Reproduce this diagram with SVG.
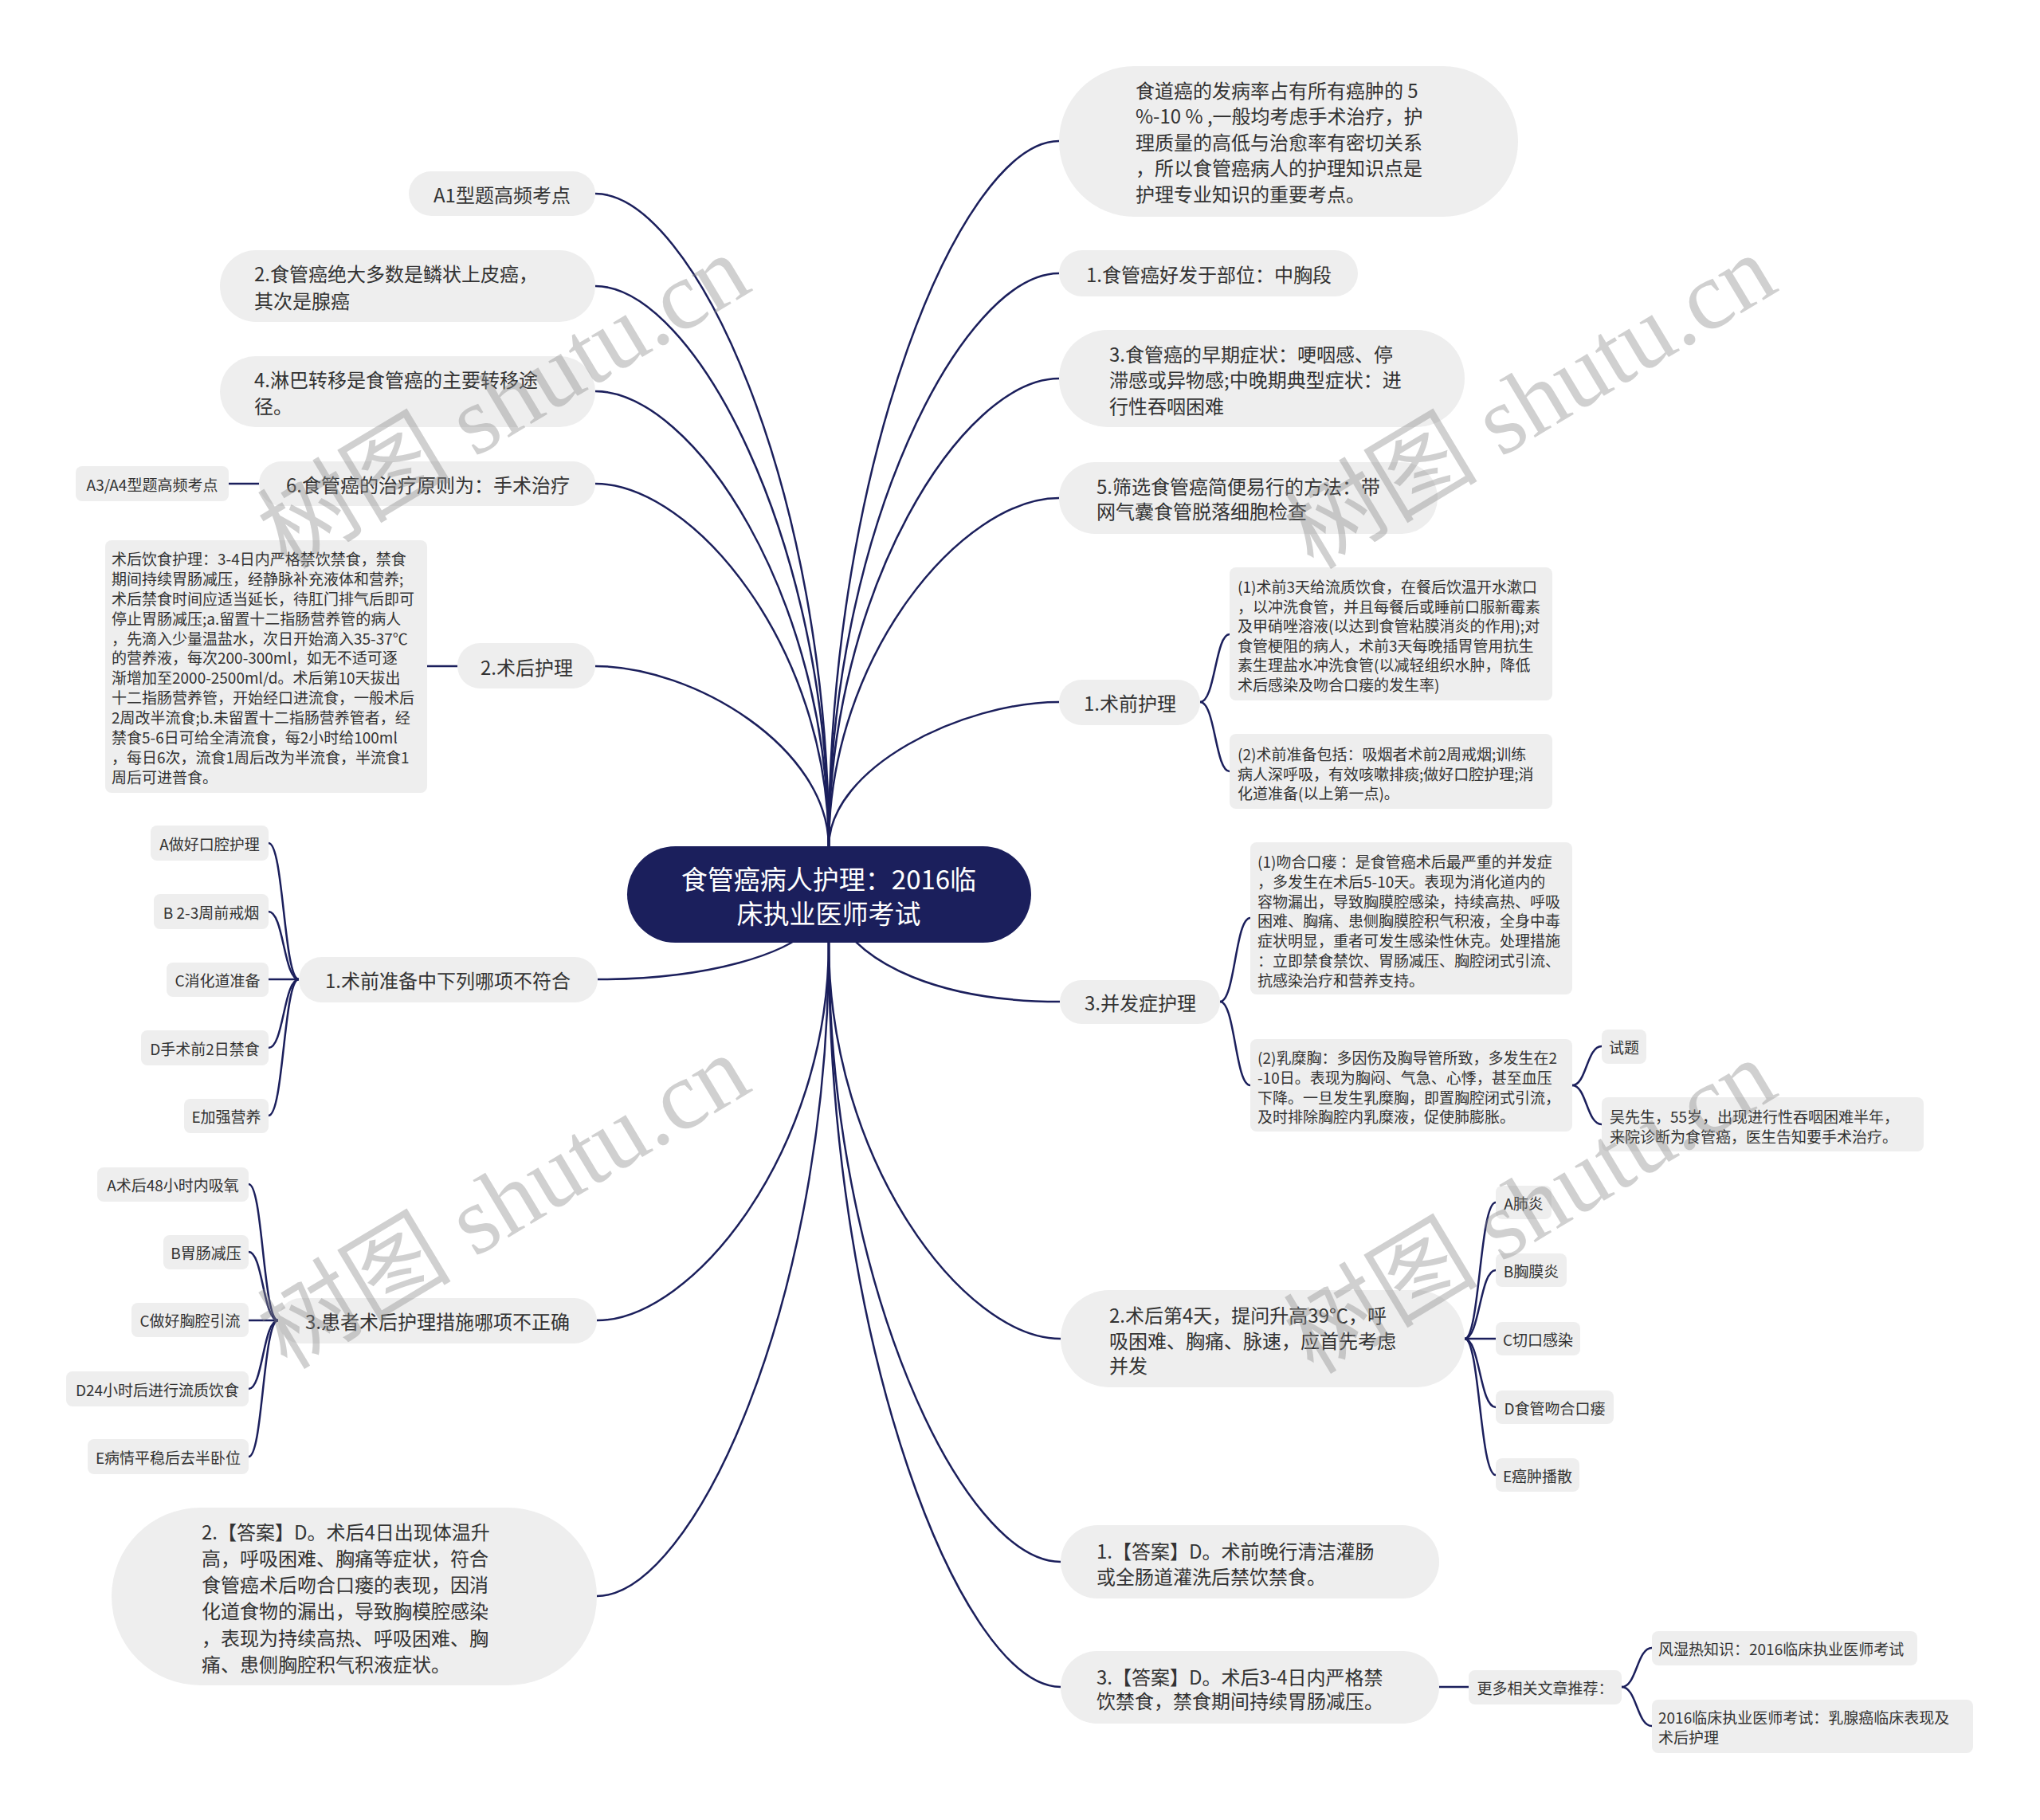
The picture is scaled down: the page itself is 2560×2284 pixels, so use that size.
<svg xmlns="http://www.w3.org/2000/svg" width="2560" height="2284" viewBox="0 0 2560 2284">
<style>
.node rect{fill:#eeeeee}
.root rect{fill:#1b1f5c}
text{font-family:"Noto Sans CJK SC","Noto Sans",sans-serif;fill:#333;dominant-baseline:central}
.t1{font-size:24px}
.t2{font-size:19px}
.tr{font-size:33px;fill:#ffffff}
.mid{text-anchor:middle}
.links path{fill:none;stroke:#1b1f5c;stroke-width:2.5}
.wm{font-family:"Liberation Serif","Noto Sans CJK SC",serif;font-size:122px;fill:#8a8a8a;fill-opacity:0.4;dominant-baseline:alphabetic}
</style>
<rect width="2560" height="2284" fill="#ffffff"/>
<g class="links" id="connectors">
<path d="M1040 1063C1040 612 870 243 747 243"/>
<path d="M1040 1063C1040 676 870 359 747 359"/>
<path d="M1040 1063C1040 749 870 491 747 491"/>
<path d="M1040 1063C1040 812 870 607 747 607"/>
<path d="M1040 1063C1040 938 870 836 747 836"/>
<path d="M1040 1063C1040 576 1208 177 1329 177"/>
<path d="M1040 1063C1040 667 1208 343 1329 343"/>
<path d="M1040 1063C1040 740 1208 475 1329 475"/>
<path d="M1040 1063C1040 822 1208 625 1329 625"/>
<path d="M1040 1063C1040 963 1208 881 1329 881"/>
<path d="M1030 1150C1000 1200 880 1229 750 1229"/>
<path d="M1050 1150C1080 1210 1180 1257 1330 1257"/>
<path d="M1040 1183C1040 1444 870 1657 749 1657"/>
<path d="M1040 1183C1040 1634 870 2003 749 2003"/>
<path d="M1040 1183C1040 1456 1209 1680 1331 1680"/>
<path d="M1040 1183C1040 1610 1209 1960 1331 1960"/>
<path d="M1040 1183C1040 1697 1209 2117 1331 2117"/>
<path d="M325 607L287 607"/>
<path d="M574 836L536 836"/>
<path d="M375 1229C356 1229 356 1058 337 1058"/>
<path d="M375 1229C356 1229 356 1144 337 1144"/>
<path d="M375 1229L337 1229"/>
<path d="M375 1229C356 1229 356 1315 337 1315"/>
<path d="M375 1229C356 1229 356 1400 337 1400"/>
<path d="M349 1657C330 1657 330 1486 312 1486"/>
<path d="M349 1657C330 1657 330 1571 312 1571"/>
<path d="M349 1657L312 1657"/>
<path d="M349 1657C330 1657 330 1743 312 1743"/>
<path d="M349 1657C330 1657 330 1828 312 1828"/>
<path d="M1506 881C1525 881 1525 796 1543 796"/>
<path d="M1506 881C1525 881 1525 968 1543 968"/>
<path d="M1531 1257C1550 1257 1550 1152 1569 1152"/>
<path d="M1531 1257C1550 1257 1550 1362 1569 1362"/>
<path d="M1973 1362C1991 1362 1991 1313 2010 1313"/>
<path d="M1973 1362C1991 1362 1991 1411 2010 1411"/>
<path d="M1838 1680C1857 1680 1857 1509 1877 1509"/>
<path d="M1838 1680C1857 1680 1857 1594 1877 1594"/>
<path d="M1838 1680L1877 1680"/>
<path d="M1838 1680C1857 1680 1857 1766 1877 1766"/>
<path d="M1838 1680C1857 1680 1857 1851 1877 1851"/>
<path d="M1806 2117L1843 2117"/>
<path d="M2035 2117C2054 2117 2054 2068 2073 2068"/>
<path d="M2035 2117C2054 2117 2054 2166 2073 2166"/>
</g>
<g class="root" id="root">
<rect x="787" y="1062" width="507" height="121" rx="60.5"/>
<text class="tr mid" x="1040" y="1102">食管癌病人护理：2016临</text>
<text class="tr mid" x="1040" y="1145">床执业医师考试</text>
</g>
<g class="node" id="n-a1"><rect x="513" y="215" width="234" height="56" rx="28"/><text class="t1 mid" x="630" y="243">A1型题高频考点</text></g>
<g class="node" id="n-l2"><rect x="276" y="314" width="471" height="90" rx="45"/><text class="t1" x="319" y="342">2.食管癌绝大多数是鳞状上皮癌，</text><text class="t1" x="319" y="376">其次是腺癌</text></g>
<g class="node" id="n-l4"><rect x="276" y="447" width="471" height="89" rx="44.5"/><text class="t1" x="319" y="475">4.淋巴转移是食管癌的主要转移途</text><text class="t1" x="319" y="508">径。</text></g>
<g class="node" id="n-l6"><rect x="325" y="579" width="422" height="56" rx="28"/><text class="t1 mid" x="537" y="607">6.食管癌的治疗原则为：手术治疗</text></g>
<g class="node" id="n-a3"><rect x="95" y="585" width="192" height="44" rx="8"/><text class="t2 mid" x="191" y="607">A3/A4型题高频考点</text></g>
<g class="node" id="n-shuhou"><rect x="574" y="807" width="173" height="57" rx="28.5"/><text class="t1 mid" x="661" y="836">2.术后护理</text></g>
<g class="node" id="n-shuhou-text"><rect x="132" y="678" width="404" height="317" rx="8"/>
<text class="t2" x="140" y="700">术后饮食护理：3-4日内严格禁饮禁食，禁食</text>
<text class="t2" x="140" y="725">期间持续胃肠减压，经静脉补充液体和营养;</text>
<text class="t2" x="140" y="750">术后禁食时间应适当延长，待肛门排气后即可</text>
<text class="t2" x="140" y="775">停止胃肠减压;a.留置十二指肠营养管的病人</text>
<text class="t2" x="140" y="800">，先滴入少量温盐水，次日开始滴入35-37℃</text>
<text class="t2" x="140" y="824">的营养液，每次200-300ml，如无不适可逐</text>
<text class="t2" x="140" y="849">渐增加至2000-2500ml/d。术后第10天拔出</text>
<text class="t2" x="140" y="874">十二指肠营养管，开始经口进流食，一般术后</text>
<text class="t2" x="140" y="899">2周改半流食;b.未留置十二指肠营养管者，经</text>
<text class="t2" x="140" y="924">禁食5-6日可给全清流食，每2小时给100ml</text>
<text class="t2" x="140" y="949">，每日6次，流食1周后改为半流食，半流食1</text>
<text class="t2" x="140" y="974">周后可进普食。</text>
</g>
<g class="node" id="n-q1"><rect x="375" y="1201" width="375" height="57" rx="28.5"/><text class="t1 mid" x="562" y="1229">1.术前准备中下列哪项不符合</text></g>
<g class="node" id="n-q1-a"><rect x="189" y="1036" width="148" height="44" rx="8"/><text class="t2 mid" x="263" y="1058">A做好口腔护理</text></g>
<g class="node" id="n-q1-b"><rect x="193" y="1122" width="144" height="44" rx="8"/><text class="t2 mid" x="265" y="1144">B 2-3周前戒烟</text></g>
<g class="node" id="n-q1-c"><rect x="209" y="1208" width="128" height="43" rx="8"/><text class="t2 mid" x="273" y="1229.5">C消化道准备</text></g>
<g class="node" id="n-q1-d"><rect x="177" y="1293" width="160" height="44" rx="8"/><text class="t2 mid" x="257" y="1315">D手术前2日禁食</text></g>
<g class="node" id="n-q1-e"><rect x="231" y="1379" width="106" height="43" rx="8"/><text class="t2 mid" x="284" y="1400.5">E加强营养</text></g>
<g class="node" id="n-q3"><rect x="349" y="1629" width="400" height="57" rx="28.5"/><text class="t1 mid" x="549" y="1657">3.患者术后护理措施哪项不正确</text></g>
<g class="node" id="n-q3-a"><rect x="122" y="1465" width="190" height="43" rx="8"/><text class="t2 mid" x="217" y="1486.5">A术后48小时内吸氧</text></g>
<g class="node" id="n-q3-b"><rect x="205" y="1550" width="107" height="43" rx="8"/><text class="t2 mid" x="258.5" y="1571.5">B胃肠减压</text></g>
<g class="node" id="n-q3-c"><rect x="165" y="1635" width="147" height="43" rx="8"/><text class="t2 mid" x="238.5" y="1656.5">C做好胸腔引流</text></g>
<g class="node" id="n-q3-d"><rect x="83" y="1721" width="229" height="44" rx="8"/><text class="t2 mid" x="197.5" y="1743">D24小时后进行流质饮食</text></g>
<g class="node" id="n-q3-e"><rect x="110" y="1806" width="202" height="44" rx="8"/><text class="t2 mid" x="211" y="1828">E病情平稳后去半卧位</text></g>
<g class="node" id="n-ans2"><rect x="140" y="1892" width="609" height="223" rx="111.5"/>
<text class="t1" x="253" y="1921">2.【答案】D。术后4日出现体温升</text>
<text class="t1" x="253" y="1954">高，呼吸困难、胸痛等症状，符合</text>
<text class="t1" x="253" y="1987">食管癌术后吻合口瘘的表现，因消</text>
<text class="t1" x="253" y="2020">化道食物的漏出，导致胸模腔感染</text>
<text class="t1" x="253" y="2054">，表现为持续高热、呼吸困难、胸</text>
<text class="t1" x="253" y="2087">痛、患侧胸腔积气积液症状。</text>
</g>
<g class="node" id="n-r0"><rect x="1329" y="83" width="576" height="189" rx="94.5"/>
<text class="t1" x="1425" y="112">食道癌的发病率占有所有癌肿的 5</text>
<text class="t1" x="1425" y="144">%-10 % ,一般均考虑手术治疗，护</text>
<text class="t1" x="1425" y="177">理质量的高低与治愈率有密切关系</text>
<text class="t1" x="1425" y="209">，所以食管癌病人的护理知识点是</text>
<text class="t1" x="1425" y="242">护理专业知识的重要考点。</text>
</g>
<g class="node" id="n-r1"><rect x="1329" y="314" width="375" height="58" rx="29"/><text class="t1 mid" x="1517" y="343">1.食管癌好发于部位：中胸段</text></g>
<g class="node" id="n-r3"><rect x="1329" y="414" width="509" height="122" rx="61"/>
<text class="t1" x="1392" y="443">3.食管癌的早期症状：哽咽感、停</text>
<text class="t1" x="1392" y="475">滞感或异物感;中晚期典型症状：进</text>
<text class="t1" x="1392" y="508">行性吞咽困难</text>
</g>
<g class="node" id="n-r5"><rect x="1329" y="580" width="475" height="90" rx="45"/>
<text class="t1" x="1376" y="609">5.筛选食管癌简便易行的方法：带</text>
<text class="t1" x="1376" y="640">网气囊食管脱落细胞检查</text>
</g>
<g class="node" id="n-pre"><rect x="1329" y="853" width="177" height="57" rx="28.5"/><text class="t1 mid" x="1418" y="881.5">1.术前护理</text></g>
<g class="node" id="n-pre-1"><rect x="1543" y="712" width="405" height="167" rx="8"/>
<text class="t2" x="1553" y="735">(1)术前3天给流质饮食，在餐后饮温开水漱口</text>
<text class="t2" x="1553" y="760">，以冲洗食管，并且每餐后或睡前口服新霉素</text>
<text class="t2" x="1553" y="784">及甲硝唑溶液(以达到食管粘膜消炎的作用);对</text>
<text class="t2" x="1553" y="809">食管梗阻的病人，术前3天每晚插胃管用抗生</text>
<text class="t2" x="1553" y="833">素生理盐水冲洗食管(以减轻组织水肿，降低</text>
<text class="t2" x="1553" y="858">术后感染及吻合口瘘的发生率)</text>
</g>
<g class="node" id="n-pre-2"><rect x="1543" y="921" width="405" height="94" rx="8"/>
<text class="t2" x="1553" y="945">(2)术前准备包括：吸烟者术前2周戒烟;训练</text>
<text class="t2" x="1553" y="970">病人深呼吸，有效咳嗽排痰;做好口腔护理;消</text>
<text class="t2" x="1553" y="994">化道准备(以上第一点)。</text>
</g>
<g class="node" id="n-comp"><rect x="1330" y="1230" width="201" height="55" rx="27.5"/><text class="t1 mid" x="1431" y="1257">3.并发症护理</text></g>
<g class="node" id="n-comp-1"><rect x="1569" y="1057" width="404" height="191" rx="8"/>
<text class="t2" x="1578" y="1080">(1)吻合口瘘 ：是食管癌术后最严重的并发症</text>
<text class="t2" x="1578" y="1105">，多发生在术后5-10天。表现为消化道内的</text>
<text class="t2" x="1578" y="1130">容物漏出，导致胸膜腔感染，持续高热、呼吸</text>
<text class="t2" x="1578" y="1154">困难、胸痛、患侧胸膜腔积气积液，全身中毒</text>
<text class="t2" x="1578" y="1179">症状明显，重者可发生感染性休克。处理措施</text>
<text class="t2" x="1578" y="1204">：立即禁食禁饮、胃肠减压、胸腔闭式引流、</text>
<text class="t2" x="1578" y="1229">抗感染治疗和营养支持。</text>
</g>
<g class="node" id="n-comp-2"><rect x="1569" y="1304" width="404" height="116" rx="8"/>
<text class="t2" x="1578" y="1326">(2)乳糜胸：多因伤及胸导管所致，多发生在2</text>
<text class="t2" x="1578" y="1351">-10日。表现为胸闷、气急、心悸，甚至血压</text>
<text class="t2" x="1578" y="1376">下降。一旦发生乳糜胸，即置胸腔闭式引流，</text>
<text class="t2" x="1578" y="1400">及时排除胸腔内乳糜液，促使肺膨胀。</text>
</g>
<g class="node" id="n-shiti"><rect x="2010" y="1292" width="56" height="43" rx="8"/><text class="t2 mid" x="2038" y="1313.5">试题</text></g>
<g class="node" id="n-wu"><rect x="2010" y="1377" width="404" height="68" rx="8"/>
<text class="t2" x="2020" y="1400">吴先生，55岁，出现进行性吞咽困难半年，</text>
<text class="t2" x="2020" y="1425">来院诊断为食管癌，医生告知要手术治疗。</text>
</g>
<g class="node" id="n-q2"><rect x="1331" y="1619" width="507" height="122" rx="61"/>
<text class="t1" x="1392" y="1649">2.术后第4天，提问升高39℃，呼</text>
<text class="t1" x="1392" y="1681">吸困难、胸痛、脉速，应首先考虑</text>
<text class="t1" x="1392" y="1712">并发</text>
</g>
<g class="node" id="n-q2-a"><rect x="1877" y="1488" width="70" height="42" rx="8"/><text class="t2 mid" x="1912" y="1509">A肺炎</text></g>
<g class="node" id="n-q2-b"><rect x="1877" y="1573" width="89" height="42" rx="8"/><text class="t2 mid" x="1921.5" y="1594">B胸膜炎</text></g>
<g class="node" id="n-q2-c"><rect x="1877" y="1659" width="106" height="42" rx="8"/><text class="t2 mid" x="1930" y="1680">C切口感染</text></g>
<g class="node" id="n-q2-d"><rect x="1877" y="1745" width="148" height="42" rx="8"/><text class="t2 mid" x="1951" y="1766">D食管吻合口瘘</text></g>
<g class="node" id="n-q2-e"><rect x="1877" y="1830" width="105" height="42" rx="8"/><text class="t2 mid" x="1929.5" y="1851">E癌肿播散</text></g>
<g class="node" id="n-ans1"><rect x="1331" y="1914" width="475" height="92" rx="46"/>
<text class="t1" x="1376" y="1945">1.【答案】D。术前晚行清洁灌肠</text>
<text class="t1" x="1376" y="1977">或全肠道灌洗后禁饮禁食。</text>
</g>
<g class="node" id="n-ans3"><rect x="1331" y="2072" width="475" height="91" rx="45.5"/>
<text class="t1" x="1376" y="2103">3.【答案】D。术后3-4日内严格禁</text>
<text class="t1" x="1376" y="2133">饮禁食，禁食期间持续胃肠减压。</text>
</g>
<g class="node" id="n-more"><rect x="1843" y="2096" width="192" height="43" rx="8"/><text class="t2 mid" x="1939" y="2117.5">更多相关文章推荐：</text></g>
<g class="node" id="n-link1"><rect x="2073" y="2047" width="333" height="43" rx="8"/><text class="t2" x="2081" y="2068.5">风湿热知识：2016临床执业医师考试</text></g>
<g class="node" id="n-link2"><rect x="2073" y="2133" width="403" height="67" rx="8"/>
<text class="t2" x="2081" y="2154">2016临床执业医师考试：乳腺癌临床表现及</text>
<text class="t2" x="2081" y="2179">术后护理</text>
</g>
<g id="watermark">
<text class="wm" x="360" y="716" transform="rotate(-31 360 716)">树图 shutu.cn</text>
<text class="wm" x="1648" y="716" transform="rotate(-31 1648 716)">树图 shutu.cn</text>
<text class="wm" x="360" y="1720" transform="rotate(-31 360 1720)">树图 shutu.cn</text>
<text class="wm" x="1648" y="1726" transform="rotate(-31 1648 1726)">树图 shutu.cn</text>
</g>
</svg>
